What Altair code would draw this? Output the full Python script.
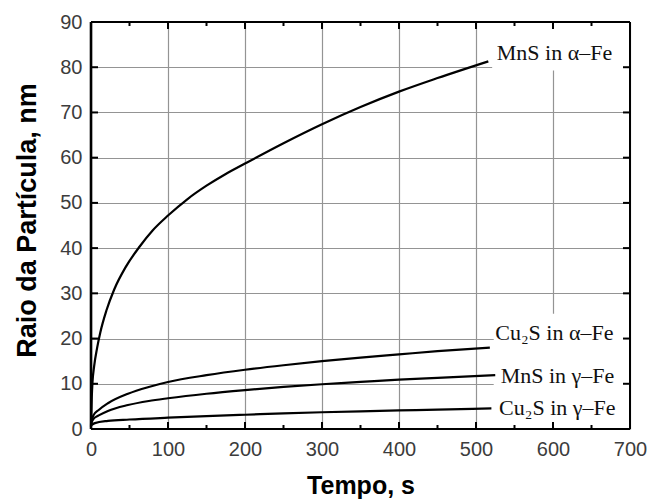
import altair as alt
import pandas as pd

# Elapsed time (s) and mean particle radius (nm) for each precipitate / matrix pair
t_mns_alpha = [0, 1, 2, 4, 8, 12, 20, 30, 45, 63, 80, 100, 125, 150, 175, 200, 250, 300, 350, 400, 450, 516]
r_mns_alpha = [0.5, 7, 10.5, 13.8, 18.0, 21.3, 26.2, 30.8, 35.8, 40.3, 43.9, 47.2, 50.8, 53.8, 56.4, 58.7, 63.2, 67.4, 71.2, 74.6, 77.6, 81.3]

t_cu2s_alpha = [0, 3, 10, 22, 48, 75, 100, 150, 200, 250, 300, 350, 400, 450, 518]
r_cu2s_alpha = [1.2, 3.0, 4.2, 5.7, 7.8, 9.3, 10.4, 11.9, 13.1, 14.1, 15.0, 15.8, 16.5, 17.2, 18.0]

t_mns_gamma = [0, 3, 10, 22, 48, 75, 100, 150, 200, 250, 300, 350, 400, 450, 525]
r_mns_gamma = [1.2, 2.2, 3.0, 4.0, 5.3, 6.2, 6.8, 7.8, 8.6, 9.3, 9.9, 10.4, 10.9, 11.3, 11.9]

t_cu2s_gamma = [0, 5, 22, 50, 100, 150, 200, 250, 300, 350, 400, 450, 520]
r_cu2s_gamma = [0.8, 1.3, 1.8, 2.1, 2.5, 2.85, 3.15, 3.45, 3.7, 3.9, 4.1, 4.3, 4.55]

series_names = ["MnS in α–Fe", "Cu₂S in α–Fe", "MnS in γ–Fe", "Cu₂S in γ–Fe"]

# Curve labels: anchor time and radius of each label's baseline start
label_t = [527, 525, 532, 530]
label_r = [81.5, 19.6, 10.1, 3.1]

x_major = [0, 100, 200, 300, 400, 500, 600, 700]
x_minor = [50, 150, 250, 350, 450, 550, 650]
y_major = [0, 10, 20, 30, 40, 50, 60, 70, 80, 90]

W, H = 539, 407

curves = pd.concat(
    [
        pd.DataFrame({"t": t, "r": r, "s": name})
        for t, r, name in zip(
            [t_mns_alpha, t_cu2s_alpha, t_mns_gamma, t_cu2s_gamma],
            [r_mns_alpha, r_cu2s_alpha, r_mns_gamma, r_cu2s_gamma],
            series_names,
        )
    ],
    ignore_index=True,
)
labels = pd.DataFrame({"t": label_t, "r": label_r, "s": series_names})

# white panels behind the curve labels (hide the grid there)
masks = pd.DataFrame({"t": [521, 523], "t2": [700, 700], "r": [79.3, 0.4], "r2": [90, 25.5]})

x_scale = alt.Scale(domain=[0, 700], nice=False, zero=False)
y_scale = alt.Scale(domain=[0, 90], nice=False, zero=False)

x_axis = alt.Axis(
    values=x_major, grid=True, gridColor="#949494", gridWidth=1.2,
    ticks=False, domain=False, labelFont="Liberation Sans", labelFontSize=20,
    labelColor="#3c3c3c", labelPadding=10, labelFlush=False,
    title="Tempo, s", titleFont="Liberation Sans", titleFontWeight="bold",
    titleFontSize=25, titleColor="black", titleBaseline="alphabetic", titleY=64,
)
y_axis = alt.Axis(
    values=y_major, grid=True, gridColor="#949494", gridWidth=1.2,
    ticks=False, domain=False, labelFont="Liberation Sans", labelFontSize=20,
    labelColor="#3c3c3c", labelPadding=9, labelFlush=False,
    title="Raio da Partícula, nm", titleFont="Liberation Sans", titleFontWeight="bold",
    titleFontSize=27, titleColor="black", titleX=-50, titleY=198,
)

X = alt.X("t:Q", scale=x_scale, axis=x_axis)
Y = alt.Y("r:Q", scale=y_scale, axis=y_axis)

mask_layer = alt.Chart(masks).mark_rect(color="white").encode(
    x=X, x2="t2:Q", y=Y, y2="r2:Q"
)

line_layer = alt.Chart(curves).mark_line(
    color="black", strokeWidth=2.2, interpolate="monotone"
).encode(x=X, y=Y, detail="s:N")

text_layer = alt.Chart(labels).mark_text(
    align="left", baseline="alphabetic", font="Liberation Serif",
    fontSize=22, color="#111111"
).encode(x=X, y=Y, text="s:N")

# inward tick marks on all four sides
xt_major = pd.DataFrame({"t": x_major})
xt_minor = pd.DataFrame({"t": x_minor})
yt_major = pd.DataFrame({"r": y_major})

tick_style = dict(color="black", strokeWidth=2)
ticks = [
    alt.Chart(xt_major).mark_rule(**tick_style).encode(x=X, y=alt.value(H), y2=alt.value(H - 7)),
    alt.Chart(xt_major).mark_rule(**tick_style).encode(x=X, y=alt.value(0), y2=alt.value(7)),
    alt.Chart(xt_minor).mark_rule(**tick_style).encode(x=X, y=alt.value(H), y2=alt.value(H - 4)),
    alt.Chart(xt_minor).mark_rule(**tick_style).encode(x=X, y=alt.value(0), y2=alt.value(4)),
    alt.Chart(yt_major).mark_rule(**tick_style).encode(y=Y, x=alt.value(0), x2=alt.value(7)),
    alt.Chart(yt_major).mark_rule(**tick_style).encode(y=Y, x=alt.value(W), x2=alt.value(W - 7)),
]

one = pd.DataFrame({"k": [0]})
frame_style = dict(color="black", strokeWidth=2)
frame = [
    alt.Chart(one).mark_rule(**frame_style).encode(x=alt.value(0), x2=alt.value(W), y=alt.value(0)),
    alt.Chart(one).mark_rule(**frame_style).encode(x=alt.value(0), x2=alt.value(W), y=alt.value(H)),
    alt.Chart(one).mark_rule(color="black", strokeWidth=2.6).encode(x=alt.value(0), y=alt.value(0), y2=alt.value(H)),
    alt.Chart(one).mark_rule(**frame_style).encode(x=alt.value(W), y=alt.value(0), y2=alt.value(H)),
]

chart = alt.layer(
    mask_layer, line_layer, text_layer, *ticks, *frame
).properties(
    width=W, height=H,
    autosize=alt.AutoSizeParams(type="none"),
    padding={"left": 91, "top": 22, "right": 19, "bottom": 71},
    background="white",
).configure_view(stroke=None)

chart.save("out.html", embed_options={"renderer": "svg", "actions": False})
